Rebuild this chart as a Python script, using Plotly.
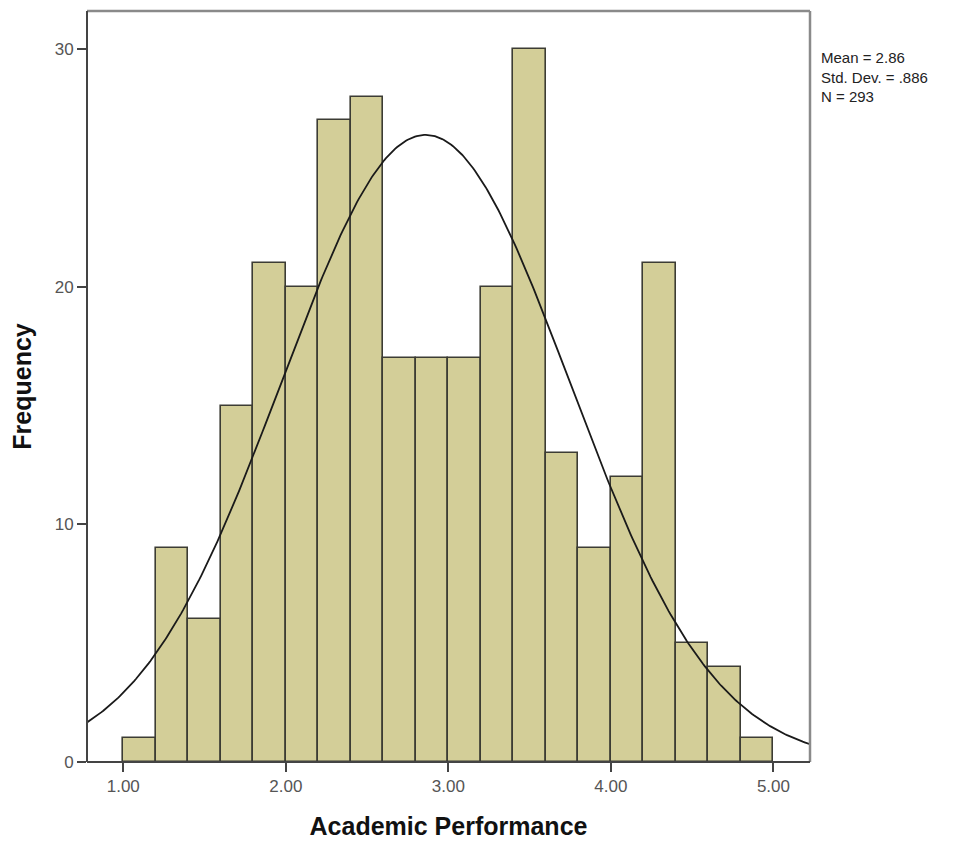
import numpy as np
import plotly.graph_objects as go

# Histogram data (bin width 0.2, from 1.00 to 5.00)
bin_starts = [1.0, 1.2, 1.4, 1.6, 1.8, 2.0, 2.2, 2.4, 2.6, 2.8,
              3.0, 3.2, 3.4, 3.6, 3.8, 4.0, 4.2, 4.4, 4.6, 4.8]
frequencies = [1, 9, 6, 15, 21, 20, 27, 28, 17, 17,
               17, 20, 30, 13, 9, 12, 21, 5, 4, 1]
bin_width = 0.2

# Summary statistics shown on the chart
mean_val = 2.86
sd_val = 0.886
n_val = 293

x_tickvals = [1.0, 2.0, 3.0, 4.0, 5.0]
x_ticktext = ["1.00", "2.00", "3.00", "4.00", "5.00"]
y_tickvals = [0, 10, 20, 30]

x_range = [0.777, 5.225]
y_range = [0, 31.6]

centers = [b + bin_width / 2 for b in bin_starts]

# Fitted normal curve (as drawn by the software from mean, sd, N)
xc = np.linspace(x_range[0], x_range[1], 400)
yc = n_val * bin_width / (sd_val * np.sqrt(2 * np.pi)) * np.exp(-0.5 * ((xc - mean_val) / sd_val) ** 2)

fig = go.Figure()
fig.add_trace(go.Bar(
    x=centers, y=frequencies, width=[bin_width] * len(centers),
    marker=dict(color="#D3CE98", line=dict(color="#3C3C34", width=1.6)),
    showlegend=False, hoverinfo="x+y",
))
fig.add_trace(go.Scatter(
    x=xc, y=yc, mode="lines", line=dict(color="#1a1a1a", width=1.8),
    showlegend=False, hoverinfo="skip",
))

font_family = "Liberation Sans, Arial, sans-serif"
tick_font = dict(family=font_family, size=17, color="#555555")

fig.update_layout(
    width=963, height=843,
    margin=dict(l=79, r=161, t=3, b=89),
    paper_bgcolor="white", plot_bgcolor="white",
    bargap=0,
    xaxis=dict(
        range=x_range, tickvals=x_tickvals, ticktext=x_ticktext,
        ticks="outside", ticklen=9, tickwidth=2, tickcolor="#444444",
        showgrid=False, zeroline=False, showline=False,
        tickfont=tick_font,
        title=dict(text="<b>Academic Performance</b>", standoff=22,
                   font=dict(family=font_family, size=25, color="#111111")),
    ),
    yaxis=dict(
        range=y_range, tickvals=y_tickvals,
        ticks="outside", ticklen=9, tickwidth=2, tickcolor="#444444",
        showgrid=False, zeroline=False, showline=False,
        tickfont=tick_font,
        title=dict(text="<b>Frequency</b>", standoff=22,
                   font=dict(family=font_family, size=25, color="#111111")),
    ),
)

# Plot frame: dark left/bottom, grey top/right
fig.add_shape(type="line", xref="paper", yref="paper", x0=0, x1=1, y0=1, y1=1,
              line=dict(color="#8a8a8a", width=2.5))
fig.add_shape(type="line", xref="paper", yref="paper", x0=1, x1=1, y0=0, y1=1,
              line=dict(color="#8a8a8a", width=2.5))
fig.add_shape(type="line", xref="paper", yref="paper", x0=0, x1=0, y0=0, y1=1,
              line=dict(color="#444444", width=2))
fig.add_shape(type="line", xref="paper", yref="paper", x0=0, x1=1, y0=0, y1=0,
              line=dict(color="#444444", width=2))

stats_text = "Mean = %.2f<br>Std. Dev. = .886<br>N = %d" % (mean_val, n_val)
fig.add_annotation(text=stats_text, xref="paper", yref="paper", x=1, xshift=9, xanchor="left",
                   y=1, yshift=-36, yanchor="top", align="left", showarrow=False,
                   font=dict(family=font_family, size=15, color="#222222"))

fig.write_html("out.html")
